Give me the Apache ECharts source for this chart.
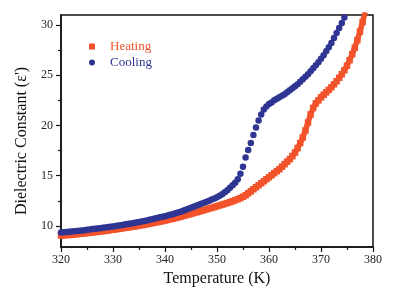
<!DOCTYPE html>
<html>
<head>
<meta charset="utf-8">
<script src="https://cdn.jsdelivr.net/npm/echarts@6/dist/echarts.min.js"></script>
<style>
    html, body { margin: 0; padding: 0; background: #fff; }
</style>
</head>
<body>
<div id="echart_table" style="width: 395px;height: 300px"></div>

<script>
    // temperature (K), 0.5 K steps
    var temps = [
        320, 320.5, 321, 321.5, 322, 322.5, 323, 323.5, 324, 324.5,
        325, 325.5, 326, 326.5, 327, 327.5, 328, 328.5, 329, 329.5,
        330, 330.5, 331, 331.5, 332, 332.5, 333, 333.5, 334, 334.5,
        335, 335.5, 336, 336.5, 337, 337.5, 338, 338.5, 339, 339.5,
        340, 340.5, 341, 341.5, 342, 342.5, 343, 343.5, 344, 344.5,
        345, 345.5, 346, 346.5, 347, 347.5, 348, 348.5, 349, 349.5,
        350, 350.5, 351, 351.5, 352, 352.5, 353, 353.5, 354, 354.5,
        355, 355.5, 356, 356.5, 357, 357.5, 358, 358.5, 359, 359.5,
        360, 360.5, 361, 361.5, 362, 362.5, 363, 363.5, 364, 364.5,
        365, 365.5, 366, 366.5, 367, 367.5, 368, 368.5, 369, 369.5,
        370, 370.5, 371, 371.5, 372, 372.5, 373, 373.5, 374, 374.5,
        375, 375.5, 376, 376.5, 377, 377.5, 378, 378.5
    ];
    var heating = [
        9.04, 9.06, 9.08, 9.10, 9.13, 9.15, 9.18, 9.20, 9.23, 9.26,
        9.29, 9.32, 9.35, 9.38, 9.41, 9.44, 9.48, 9.51, 9.55, 9.59,
        9.62, 9.66, 9.70, 9.74, 9.78, 9.82, 9.86, 9.90, 9.94, 9.98,
        10.03, 10.07, 10.12, 10.17, 10.22, 10.27, 10.32, 10.37, 10.43, 10.48,
        10.54, 10.60, 10.66, 10.72, 10.78, 10.85, 10.92, 10.99, 11.06, 11.13,
        11.20, 11.28, 11.35, 11.43, 11.50, 11.58, 11.65, 11.73, 11.80, 11.88,
        11.96, 12.04, 12.12, 12.20, 12.28, 12.37, 12.46, 12.56, 12.66, 12.77,
        12.90, 13.05, 13.25, 13.45, 13.65, 13.85, 14.05, 14.25, 14.45, 14.65,
        14.85, 15.05, 15.25, 15.45, 15.65, 15.90, 16.15, 16.40, 16.65, 16.95,
        17.30, 17.75, 18.25, 18.80, 19.50, 20.30, 21.10, 21.75, 22.20, 22.50,
        22.80, 23.05, 23.30, 23.55, 23.80, 24.10, 24.40, 24.75, 25.10, 25.50,
        25.95, 26.50, 27.10, 27.75, 28.50, 29.35, 30.30, 31.30
    ];
    var cooling = [
        9.35, 9.37, 9.40, 9.42, 9.45, 9.47, 9.50, 9.53, 9.55, 9.58,
        9.62, 9.65, 9.68, 9.71, 9.74, 9.77, 9.81, 9.84, 9.88, 9.91,
        9.95, 9.99, 10.03, 10.07, 10.12, 10.16, 10.21, 10.25, 10.30, 10.35,
        10.40, 10.45, 10.50, 10.55, 10.61, 10.67, 10.73, 10.79, 10.85, 10.90,
        10.96, 11.03, 11.10, 11.17, 11.25, 11.33, 11.42, 11.50, 11.60, 11.70,
        11.80, 11.90, 12.00, 12.10, 12.20, 12.30, 12.40, 12.50, 12.62, 12.73,
        12.85, 13.00, 13.15, 13.35, 13.55, 13.80, 14.05, 14.30, 14.65, 15.20,
        15.90, 16.80, 17.55, 18.25, 19.05, 19.80, 20.50, 21.10, 21.60, 21.90,
        22.15, 22.30, 22.50, 22.65, 22.80, 22.95, 23.10, 23.30, 23.50, 23.70,
        23.90, 24.10, 24.35, 24.60, 24.85, 25.10, 25.40, 25.70, 26.00, 26.30,
        26.65, 27.00, 27.40, 27.80, 28.20, 28.70, 29.20, 29.70, 30.20, 30.75,
        31.30
    ];
    var yLabels = [10, 15, 20, 25, 30];
    var yMinor = [12.5, 17.5, 22.5, 27.5];

    var heatColor = '#F2532B';
    var coolColor = '#2E3592';
    var serif = 'Liberation Serif';

    function pairs(xs, ys) {
        var out = [];
        for (var i = 0; i < ys.length; i++) {
            out.push([xs[i], ys[i]]);
        }
        return out;
    }

    var mycharts = echarts.init(document.getElementById('echart_table'));
    var option = {
        animation: false,
        backgroundColor: '#fff',
        grid: {
            left: 61, right: 22, top: 15, bottom: 53,
            show: true,
            borderColor: '#111',
            borderWidth: 1.5
        },
        legend: {
            orient: 'vertical',
            left: 84,
            top: 35,
            itemWidth: 6,
            itemHeight: 6,
            itemGap: 3,
            textStyle: {fontFamily: serif, fontSize: 13, padding: [0, 0, 0, 10]},
            data: [
                {name: 'Heating', icon: 'rect', textStyle: {color: heatColor}},
                {name: 'Cooling', icon: 'circle', textStyle: {color: coolColor}}
            ]
        },
        xAxis: {
            type: 'value',
            min: 320,
            max: 380,
            interval: 10,
            name: 'Temperature (K)',
            nameLocation: 'middle',
            nameGap: 23,
            nameTextStyle: {fontFamily: serif, fontSize: 16, color: '#111'},
            axisLine: {lineStyle: {color: '#111', width: 1.5}},
            axisTick: {length: 5, lineStyle: {color: '#111', width: 1.2}},
            minorTick: {show: true, splitNumber: 2, length: 3, lineStyle: {color: '#111', width: 1.2}},
            axisLabel: {fontFamily: serif, fontSize: 12, color: '#222', margin: 7},
            splitLine: {show: false}
        },
        yAxis: [{
            type: 'value',
            min: 7.9,
            max: 31,
            name: 'Dielectric Constant (ε\')',
            nameLocation: 'middle',
            nameGap: 24,
            nameTextStyle: {fontFamily: serif, fontSize: 16, color: '#111', padding: [0, 20, 0, 0]},
            axisLine: {lineStyle: {color: '#111', width: 1.5}},
            axisTick: {length: 5, customValues: yLabels, lineStyle: {color: '#111', width: 1.2}},
            axisLabel: {fontFamily: serif, fontSize: 12, color: '#222', margin: 8, customValues: yLabels},
            splitLine: {show: false}
        }, {
            type: 'value',
            min: 7.9,
            max: 31,
            position: 'left',
            axisLine: {show: false},
            axisTick: {length: 3, customValues: yMinor, lineStyle: {color: '#111', width: 1.2}},
            axisLabel: {show: false},
            splitLine: {show: false}
        }],
        series: [{
            name: 'Heating',
            type: 'line',
            data: pairs(temps, heating),
            symbol: 'rect',
            symbolSize: 6.5,
            itemStyle: {color: heatColor},
            lineStyle: {color: heatColor, width: 5.5}
        }, {
            name: 'Cooling',
            type: 'line',
            data: pairs(temps, cooling),
            symbol: 'circle',
            symbolSize: 6.5,
            itemStyle: {color: coolColor},
            lineStyle: {width: 0}
        }]
    };

    mycharts.setOption(option);
</script>
</body>
</html>
